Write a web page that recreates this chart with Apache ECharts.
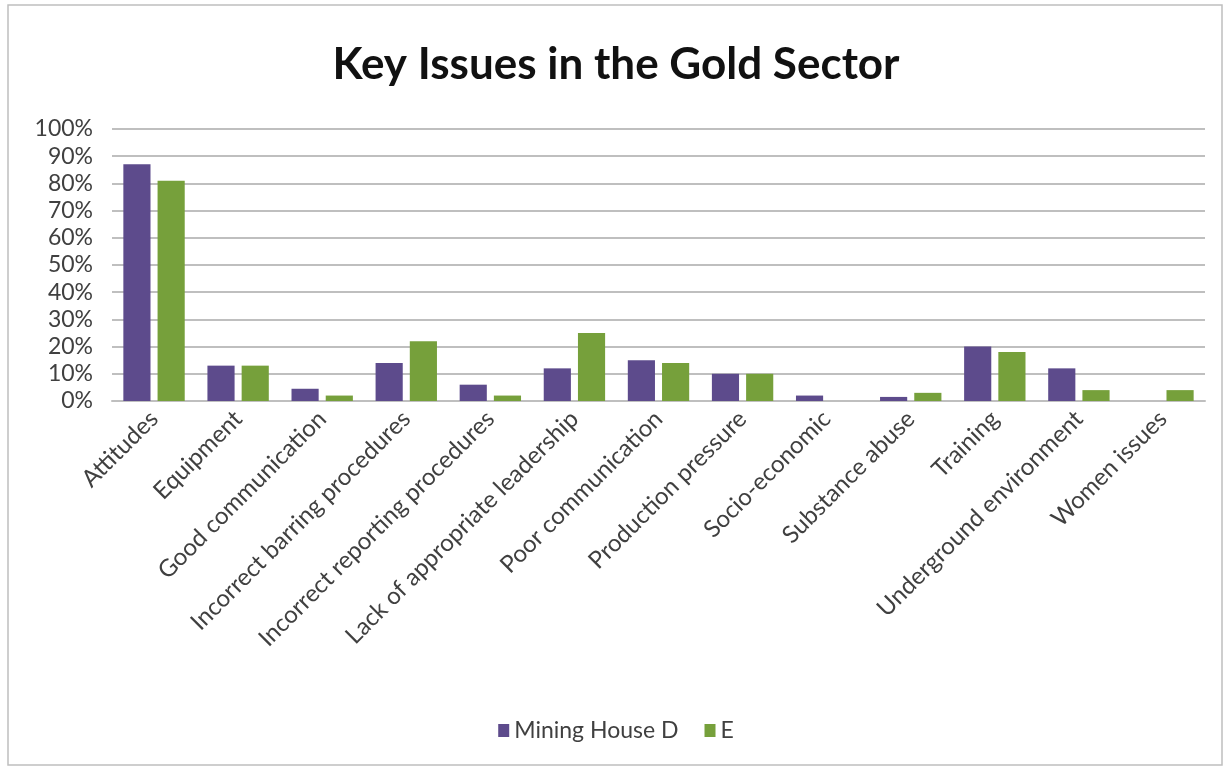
<!DOCTYPE html>
<html><head><meta charset="utf-8">
<script src="https://cdn.jsdelivr.net/npm/echarts@6/dist/echarts.min.js"></script>
<style>html,body{margin:0;padding:0;background:#fff;}#c{position:absolute;left:0;top:0;width:1232px;height:769px;}</style>
</head><body><div id="c"></div>
<script>
var categories = ["Attitudes","Equipment","Good communication","Incorrect barring procedures","Incorrect reporting procedures","Lack of appropriate leadership","Poor communication","Production pressure","Socio-economic","Substance abuse","Training","Underground environment","Women issues"];
var miningHouseD = [87,13,4.5,14,6,12,15,10,2,1.5,20,12,0];
var seriesE = [81,13,2,22,2,25,14,10,0,3,18,4,4];
var seriesNames = ["Mining House D","E"];
var chart = echarts.init(document.getElementById('c'));
chart.setOption({
  animation:false,
  backgroundColor:'#fff',
  graphic:[{type:'rect',shape:{x:8,y:5,width:1214,height:760},style:{fill:'none',stroke:'#bfbfbf',lineWidth:1.5},silent:true}],
  title:{text:'Key Issues in the Gold Sector',left:'center',top:38,textStyle:{fontFamily:'Lato',fontWeight:'bold',fontSize:44,color:'#111'}},
  legend:{bottom:22,left:'center',itemWidth:11,itemHeight:13,itemGap:26,icon:'rect',textStyle:{fontFamily:'Lato',fontSize:23,color:'#404040'},data:seriesNames},
  grid:{left:112,right:27,top:129,bottom:368,containLabel:false},
  xAxis:{type:'category',data:categories,axisTick:{show:false},axisLine:{lineStyle:{color:'#bfbfbf',width:2}},
    axisLabel:{rotate:45,interval:0,fontFamily:'Lato',fontSize:24,color:'#404040',margin:14}},
  yAxis:{type:'value',min:0,max:100,interval:10,axisLabel:{formatter:'{value}%',fontFamily:'Lato',fontSize:23,color:'#404040',margin:19},
    splitLine:{lineStyle:{color:'#bfbfbf',width:2}},axisLine:{show:false},axisTick:{show:false}},
  series:[
    {name:seriesNames[0],type:'bar',data:miningHouseD,itemStyle:{color:'#5d4b8c'},barGap:'26%',barCategoryGap:'27%'},
    {name:seriesNames[1],type:'bar',data:seriesE,itemStyle:{color:'#76a03b'}}
  ]
});
</script></body></html>
